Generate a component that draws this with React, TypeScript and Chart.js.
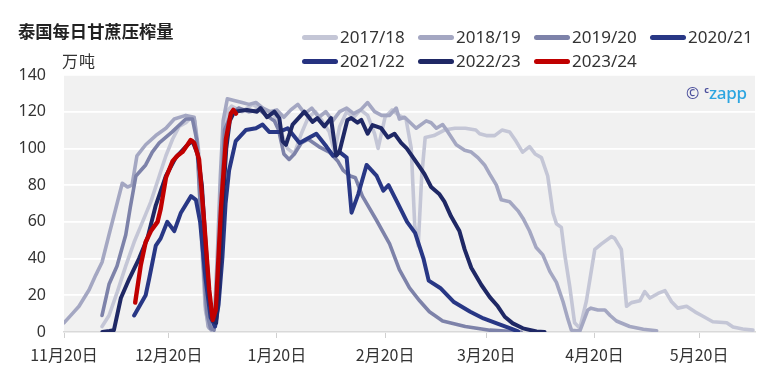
import React, { useEffect, useRef } from 'react';
import { Chart, registerables } from 'chart.js';

Chart.register(...registerables);

// ---- axis / labels ----
const tickDays = [0, 30, 61, 92, 121, 152, 182];
const tickLabels = ['11月20日', '12月20日', '1月20日', '2月20日', '3月20日', '4月20日', '5月20日'];
const yTicks = [0, 20, 40, 60, 80, 100, 120, 140];

const seasonLabels = ['2017/18', '2018/19', '2019/20', '2020/21', '2021/22', '2022/23', '2023/24'];
const seasonColors = ['#c4c6d6', '#a4a7c2', '#7d82a9', '#283785', '#263280', '#1f2865', '#c00000'];

// ---- data: day offsets from 11月20日 and daily crush (万吨) ----
const d1718 = [10.9, 12.9, 15.3, 17.7, 20.1, 22.5, 24.9, 27.3, 29.2, 31.1, 33, 34.9, 36.5, 37.5, 38.5, 39.5, 40.5, 41.6, 43, 44, 45, 46, 47, 48, 51, 54, 57, 60, 62, 64, 66, 68, 70, 72, 74, 76, 77.5, 79, 81, 83, 85, 87, 89, 90, 92, 94, 96, 98, 99.5, 100.5, 101.5, 102.5, 103.5, 106, 109, 112, 115, 118, 119.1, 121, 123.4, 125.5, 127.7, 129.5, 131.4, 133.4, 135, 136.8, 138.6, 140.1, 141.1, 142.5, 143.5, 144.9, 146.3, 147.8, 149.7, 152.1, 154, 156.9, 157.8, 159.7, 161.2, 162.6, 165, 166.4, 167.9, 170.2, 172.2, 174.1, 175.9, 178.4, 180.8, 182.7, 185.9, 189.9, 191.7, 194.5, 197.4];
const v1718 = [3, 9, 22, 36, 49, 60, 71, 85, 96, 105, 112, 114, 117, 115, 92, 45, 12, 2, 4, 35, 85, 112, 121, 123, 120, 124, 121, 119, 110, 100, 97, 108, 117, 120, 115, 109, 98, 112, 120, 117, 121, 118, 108, 100, 117, 121, 118, 116, 100, 58, 47, 85, 106, 107, 110, 111, 111, 110, 108, 107, 107, 110, 109, 104, 98, 101, 97, 95, 85, 65, 59, 57, 42, 25, 5, 2, 17, 45, 48, 52, 51, 45, 14, 16, 17, 22, 18.5, 21, 22.5, 16.5, 13, 14, 11, 9, 5.6, 5, 2.7, 1.6, 1];

const d1819 = [0, 2.4, 4.3, 7.2, 9.1, 10.9, 12.9, 14.8, 16.7, 18.2, 19.5, 20.9, 23.4, 26.3, 29.2, 31.6, 34.9, 37.3, 38.5, 39.6, 40.5, 41.3, 42.2, 43, 43.9, 44.8, 45.6, 46.8, 49, 51, 53, 55, 57, 59, 61, 63, 65, 67, 69, 71, 73, 75, 77, 79, 81, 83, 85, 87, 89, 91, 93.3, 95.2, 96.1, 97.6, 100.9, 103.8, 105.2, 106.7, 108.5, 110, 112.4, 114.8, 116.7, 118.6, 120.5, 122, 123.9, 125.3, 127.7, 130.1, 131.5, 133.4, 135.3, 137.2, 139.2, 141.1, 143, 144.4, 145.4, 147.8, 150.1, 151, 153, 155, 156.5, 158.3, 162.1, 166, 169.8];
const v1819 = [5, 10, 14, 23, 31, 38, 53, 67, 81, 79, 80, 96, 102, 107, 111, 116, 118, 117, 100, 50, 15, 3, 1, 5, 40, 85, 115, 127, 126, 125, 124, 125, 122, 120, 121, 117, 121, 124, 119, 122, 117, 120, 115, 120, 122, 119, 121, 125, 120, 118, 118, 122, 116, 117, 111, 115, 114, 111, 113, 109, 102, 99, 98, 95, 91, 86, 80, 72, 71, 66, 62, 55, 46, 42, 33, 27, 16.5, 7, 1, 0.5, 12, 13, 12, 12, 9, 6, 3, 1.5, 0.7];

const d1920 = [10.9, 12.9, 15.2, 17.7, 19, 20.6, 23.4, 25.3, 27.3, 31, 34.9, 36.8, 38, 39, 40, 41, 42, 43, 44, 45, 46, 48, 50, 53, 56, 58, 60.3, 61.5, 63, 64.5, 66, 68, 70, 73, 76, 78.5, 80, 82, 83.5, 85.5, 89.5, 93.3, 96.1, 99, 101.9, 104.7, 108.5, 115, 122, 131];
const v1920 = [9, 26, 36, 53, 68, 85, 91, 98, 103, 109, 116, 116, 105, 70, 35, 10, 2, 1, 20, 70, 110, 119, 122, 120, 121, 118, 115, 110, 97, 94, 97, 103, 105, 101, 98, 93, 88, 85, 84, 74, 61, 48, 34, 24, 17, 11, 6, 3, 1, 0];

const d2021 = [20.1, 23.4, 24.4, 26.3, 27.7, 29.6, 31.6, 33.5, 36.4, 37.8, 39, 40.5, 42, 43.3, 44.3, 45.4, 46.3, 47.3, 49.2, 52.1, 55, 56.9, 58.8, 61.7, 64.1, 67.5, 69.4, 72.3, 75.2, 77.1, 79, 81, 82.4, 84.3, 86.7, 89.6, 91.5, 93, 95.4, 98.3, 100.6, 103, 104.5, 107.8, 111.6, 116.4, 120.2, 124, 127.9, 130.1];
const v2021 = [9, 20, 29, 47, 51, 60, 55, 65, 74, 72, 60, 30, 8, 3, 15, 41, 70, 88, 104, 110, 111, 113, 109, 109, 111, 103, 105, 108, 101, 96, 98, 95, 65, 75, 91, 85, 77, 80, 71, 60, 54, 40, 28, 24, 16.5, 11, 7.4, 4.7, 2, 0.3];

const d2122: number[] = [];
const v2122: number[] = [];

const d2223 = [11, 13, 14.3, 16.3, 18.7, 21.5, 23.9, 26.3, 29.2, 32, 35.4, 36.8, 38.3, 39.5, 40.5, 41.7, 42.8, 43.6, 44.5, 45.5, 46.5, 47.5, 48.8, 52.4, 55.3, 56.3, 58.2, 60.3, 61.7, 62.6, 63.6, 65.5, 68.9, 71.2, 72.6, 74.6, 76.5, 78, 78.9, 81.2, 82.3, 84.1, 85.2, 87, 88.4, 90.9, 92.8, 94.7, 96.6, 98.2, 101.9, 103.3, 105.2, 107.6, 109, 110.9, 113.3, 114.8, 116.7, 119.6, 122, 124.3, 126.3, 128.6, 131.5, 135.4, 137.7];
const v2223 = [0, 0.5, 1, 18.5, 29, 40, 51, 69, 85, 95, 102, 104, 97, 80, 50, 18, 6, 5, 25, 70, 100, 115, 120, 121, 120, 122, 117, 120, 116.5, 104, 102, 113, 120, 114.5, 116.5, 112, 116.5, 96, 98, 115.5, 116.5, 114, 115.5, 108, 112.7, 111, 106, 108, 103, 100, 90, 86, 79, 75, 71, 63, 55, 45, 35, 25.6, 19, 14, 8.3, 4.7, 2, 0.3, 0];

const d2324 = [20.4, 22, 23.4, 24.9, 26.8, 27.7, 29.2, 31.1, 32.5, 33.9, 35.4, 36.3, 37.3, 38.7, 40.2, 41.6, 42.6, 43.5, 45, 46.4, 47.8, 48.5, 49.3];
const v2324 = [16, 36.5, 49, 55, 60, 67, 84, 93, 96, 98, 102, 104.6, 103, 94, 59, 23, 6.5, 12, 68, 105, 119, 121, 119];

const seriesDays = [d1718, d1819, d1920, d2021, d2122, d2223, d2324];
const seriesValues = [v1718, v1819, v1920, v2021, v2122, v2223, v2324];

const bgPlugin = {
  id: 'plotBg',
  beforeDraw(chart: any) {
    const { ctx, chartArea } = chart;
    if (!chartArea) return;
    ctx.save();
    ctx.fillStyle = '#f1f1f1';
    ctx.fillRect(chartArea.left, chartArea.top, chartArea.right - chartArea.left, chartArea.bottom - chartArea.top);
    ctx.restore();
  },
};

export default function App() {
  const canvasRef = useRef<HTMLCanvasElement | null>(null);

  useEffect(() => {
    if (!canvasRef.current) return;
    const datasets = seasonLabels.map((label, i) => ({
      label,
      data: seriesDays[i].map((x, j) => ({ x, y: seriesValues[i][j] })),
      borderColor: seasonColors[i],
      backgroundColor: seasonColors[i],
      borderWidth: i === 6 ? 4.4 : i >= 3 ? 4 : 3.6,
      pointRadius: 0,
      pointHoverRadius: 0,
      tension: 0,
      fill: false,
      borderJoinStyle: 'round' as const,
      borderCapStyle: 'round' as const,
      order: 6 - i,
    }));

    const chart = new Chart(canvasRef.current, {
      type: 'line',
      data: { datasets },
      options: {
        animation: false,
        responsive: false,
        devicePixelRatio: 1,
        layout: { padding: { top: 75, right: 29, left: 0, bottom: 0 } },
        plugins: { legend: { display: false }, tooltip: { enabled: false }, title: { display: false } },
        scales: {
          x: {
            type: 'linear',
            min: 0,
            max: 198,
            afterBuildTicks: (s: any) => {
              s.ticks = tickDays.map((v) => ({ value: v }));
            },
            afterFit: (s: any) => {
              s.height = 56;
            },
            ticks: {
              autoSkip: false,
              maxRotation: 0,
              color: '#333333',
              padding: 7,
              font: { family: '"Noto Sans CJK SC"', size: 16 },
              callback: (v: any) => {
                const k = tickDays.indexOf(Number(v));
                return k >= 0 ? tickLabels[k] : '';
              },
            },
            grid: { drawOnChartArea: false, color: '#d0d0d0', tickLength: 6, lineWidth: 1 },
            border: { display: true, color: '#d9d9d9', width: 1.5 },
          },
          y: {
            min: 0,
            max: 140,
            afterBuildTicks: (s: any) => {
              s.ticks = yTicks.map((v) => ({ value: v }));
            },
            afterFit: (s: any) => {
              s.width = 64;
            },
            ticks: {
              color: '#333333',
              padding: 18,
              font: { family: '"Noto Sans"', size: 16 },
            },
            grid: { color: '#ffffff', lineWidth: 1.8, drawTicks: false },
            border: { display: false },
          },
        },
      },
      plugins: [bgPlugin],
    });
    return () => chart.destroy();
  }, []);

  const legendFont = '"Noto Sans", "Open Sans", sans-serif';

  return (
    <div style={{ position: 'fixed', left: 0, top: 0, width: 784, height: 388, background: '#ffffff', overflow: 'hidden' }}>
      <canvas ref={canvasRef} width={784} height={388} style={{ position: 'absolute', left: 0, top: 0, width: 784, height: 388 }} />
      <div
        style={{
          position: 'absolute',
          left: 18,
          top: 19,
          height: 24,
          lineHeight: '24px',
          fontFamily: '"Noto Sans CJK SC", sans-serif',
          fontWeight: 700,
          fontSize: 17.3,
          color: '#222222',
          whiteSpace: 'nowrap',
        }}
      >
        泰国每日甘蔗压榨量
      </div>
      <div
        style={{
          position: 'absolute',
          left: 62,
          top: 49,
          height: 22,
          lineHeight: '22px',
          fontFamily: '"Noto Sans CJK SC", sans-serif',
          fontSize: 16,
          color: '#333333',
          letterSpacing: 1,
          whiteSpace: 'nowrap',
        }}
      >
        万吨
      </div>
      <div
        style={{
          position: 'absolute',
          left: 302,
          top: 25,
          display: 'grid',
          gridTemplateColumns: 'repeat(4, 116px)',
          gridAutoRows: '24px',
        }}
      >
        {seasonLabels.map((label, i) => (
          <div key={label} style={{ display: 'flex', alignItems: 'center', whiteSpace: 'nowrap' }}>
            <span
              style={{
                display: 'inline-block',
                width: 36,
                height: 5,
                borderRadius: 3,
                background: seasonColors[i],
                marginRight: 2,
              }}
            />
            <span style={{ fontFamily: legendFont, fontSize: 17, color: '#333333', lineHeight: '24px' }}>{label}</span>
          </div>
        ))}
      </div>
      <div
        style={{
          position: 'absolute',
          left: 686,
          top: 82,
          height: 22,
          lineHeight: '22px',
          display: 'flex',
          alignItems: 'baseline',
          fontFamily: '"Noto Sans", sans-serif',
          whiteSpace: 'nowrap',
        }}
      >
        <span style={{ color: '#4b4f9c', fontSize: 16 }}>©</span>
        <span style={{ color: '#4b4f9c', fontSize: 9, fontWeight: 700, marginLeft: 5, position: 'relative', top: -6 }}>c</span>
        <span style={{ color: '#2ca5e0', fontSize: 17, fontWeight: 500, letterSpacing: -0.3 }}>zapp</span>
      </div>
    </div>
  );
}
